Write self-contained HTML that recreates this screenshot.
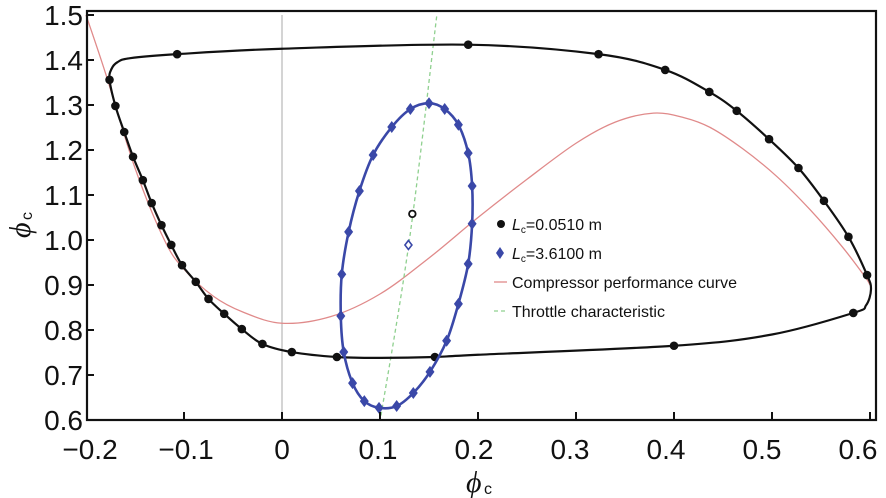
<!DOCTYPE html>
<html><head><meta charset="utf-8"><style>
body{margin:0;background:#fff;}
svg{display:block;font-family:"Liberation Sans",sans-serif;}
</style></head><body>
<svg id="chart" width="886" height="498" viewBox="0 0 886 498">
<g id="plot"></g>
<g>
<text x="466" y="492" font-family="Liberation Serif,serif" font-style="italic" font-size="30" fill="#111">ϕ</text>
<text x="484" y="494" font-family="Liberation Sans,sans-serif" font-size="16" fill="#111">c</text>
</g>
<g transform="translate(30,228) rotate(-90)">
<text x="-10" y="0" font-family="Liberation Serif,serif" font-style="italic" font-size="30" fill="#111">ϕ</text>
<text x="8" y="2" font-family="Liberation Sans,sans-serif" font-size="16" fill="#111">c</text>
</g>
<g font-family="Liberation Sans,sans-serif" font-size="16" fill="#111">
<g>
<circle cx="501" cy="224" r="4" fill="#111"/>
<text x="512" y="230"><tspan font-style="italic">L</tspan><tspan font-size="10" dy="3">c</tspan><tspan dy="-3">=0.0510 m</tspan></text></g>
<g>
<polygon points="500,247 504,253 500,259 496,253" fill="#3a48a8"/>
<text x="512" y="259"><tspan font-style="italic">L</tspan><tspan font-size="10" dy="3">c</tspan><tspan dy="-3">=3.6100 m</tspan></text></g>
<g>
<line x1="494" x2="507" y1="282" y2="282" stroke="#e08a8a" stroke-width="1.3"/>
<text x="512" y="288">Compressor performance curve</text></g>
<g>
<line x1="494" x2="507" y1="311" y2="311" stroke="#8fd08f" stroke-width="1.3" stroke-dasharray="4,3"/>
<text x="512" y="317">Throttle characteristic</text></g>
</g>
</svg>
<script>
const xTicks=[-0.2,-0.1,0,0.1,0.2,0.3,0.4,0.5,0.6];
const xTickLabels=["\u22120.2","\u22120.1","0","0.1","0.2","0.3","0.4","0.5","0.6"];
const yTicks=[0.6,0.7,0.8,0.9,1.0,1.1,1.2,1.3,1.4,1.5];
const yTickLabels=["0.6","0.7","0.8","0.9","1.0","1.1","1.2","1.3","1.4","1.5"];
const compX=[-0.2,-0.18,-0.15,-0.12,-0.1,-0.07,-0.04,0,0.05,0.1,0.15,0.2,0.25,0.3,0.34,0.379,0.41,0.437,0.470,0.505,0.539,0.572,0.595,0.6];
const compY=[1.5,1.37,1.16,1.0,0.935,0.875,0.84,0.815,0.83,0.88,0.96,1.05,1.135,1.215,1.262,1.282,1.272,1.250,1.203,1.141,1.067,0.984,0.918,0.9];
const throttleX=[0.101,0.13,0.158];
const throttleY=[0.61,1.0,1.5];
const loopAX=[-0.176,-0.174,-0.168,-0.155,-0.107,0,0.19,0.323,0.391,0.436,0.464,0.497,0.527,0.553,0.578,0.597,0.601,0.596,0.583,0.5,0.4,0.2,0.156,0.1,0.056,0.01,-0.02,-0.041,-0.059,-0.075,-0.088,-0.102,-0.113,-0.123,-0.133,-0.142,-0.152,-0.161,-0.170];
const loopAY=[1.356,1.38,1.395,1.404,1.413,1.425,1.434,1.413,1.378,1.329,1.287,1.224,1.160,1.087,1.007,0.922,0.89,0.855,0.838,0.79,0.765,0.745,0.74,0.738,0.74,0.751,0.769,0.802,0.836,0.869,0.907,0.944,0.989,1.033,1.082,1.133,1.185,1.24,1.298];
const markAX=[-0.176,-0.107,0.19,0.323,0.391,0.436,0.464,0.497,0.527,0.553,0.578,0.597,0.583,0.4,0.156,0.056,0.01,-0.02,-0.041,-0.059,-0.075,-0.088,-0.102,-0.113,-0.123,-0.133,-0.142,-0.152,-0.161,-0.170];
const markAY=[1.356,1.413,1.434,1.413,1.378,1.329,1.287,1.224,1.160,1.087,1.007,0.922,0.838,0.765,0.74,0.74,0.751,0.769,0.802,0.836,0.869,0.907,0.944,0.989,1.033,1.082,1.133,1.185,1.24,1.298];
const loopBX=[0.150,0.166,0.180,0.190,0.194,0.194,0.190,0.180,0.168,0.151,0.134,0.117,0.099,0.084,0.072,0.063,0.060,0.061,0.068,0.079,0.093,0.112,0.131];
const loopBY=[1.304,1.291,1.256,1.193,1.120,1.036,0.947,0.858,0.776,0.707,0.660,0.631,0.627,0.642,0.682,0.751,0.831,0.924,1.018,1.109,1.189,1.251,1.291];
const eqA=[0.133,1.058];
const eqB=[0.129,0.989];

const L=86,R=877,T=10,B=420;
const sx=v=>282+(v)*980;
const sy=v=>420-(v-0.6)*450;
const NS="http://www.w3.org/2000/svg";
const g=document.getElementById('plot');
function mk(tag,attrs,parent){const e=document.createElementNS(NS,tag);for(const k in attrs)e.setAttribute(k,attrs[k]);(parent||g).appendChild(e);return e;}
function smooth(xs,ys,closed){
  const p=xs.map((x,i)=>[sx(x),sy(ys[i])]);const n=p.length;
  let d="M"+p[0][0]+","+p[0][1];
  const get=i=>closed?p[(i+n)%n]:p[Math.max(0,Math.min(n-1,i))];
  const m=closed?n:n-1;
  for(let i=0;i<m;i++){const p0=get(i-1),p1=get(i),p2=get(i+1),p3=get(i+2);
    d+=" C"+(p1[0]+(p2[0]-p0[0])/6)+","+(p1[1]+(p2[1]-p0[1])/6)+" "+(p2[0]-(p3[0]-p1[0])/6)+","+(p2[1]-(p3[1]-p1[1])/6)+" "+p2[0]+","+p2[1];}
  return d+(closed?"Z":"");
}
let e=mk('line',{x1:sx(0),x2:sx(0),y1:sy(1.5),y2:B,stroke:'#aaa','stroke-width':1});


e=mk('path',{d:smooth(compX,compY,false),fill:'none',stroke:'#e08a8a','stroke-width':1.3});


e=mk('path',{d:smooth(throttleX,throttleY,false),fill:'none',stroke:'#8fd08f','stroke-width':1.3,'stroke-dasharray':'4,3'});


e=mk('path',{d:smooth(loopAX,loopAY,true),fill:'none',stroke:'#111','stroke-width':2.2});


markAX.forEach((x,i)=>{const c=mk('circle',{cx:sx(x),cy:sy(markAY[i]),r:4.3,fill:'#111'});

});
e=mk('path',{d:smooth(loopBX,loopBY,true),fill:'none',stroke:'#3a48a8','stroke-width':2.6});


loopBX.forEach((x,i)=>{const X=sx(x),Y=sy(loopBY[i]);const c=mk('polygon',{points:`${X},${Y-6} ${X+4.5},${Y} ${X},${Y+6} ${X-4.5},${Y}`,fill:'#3a48a8'});

});
e=mk('circle',{cx:sx(eqA[0]),cy:sy(eqA[1]),r:3.3,fill:'#fff',stroke:'#111','stroke-width':1.8});


{const X=sx(eqB[0]),Y=sy(eqB[1]);e=mk('polygon',{points:`${X},${Y-4.5} ${X+3.5},${Y} ${X},${Y+4.5} ${X-3.5},${Y}`,fill:'#fff',stroke:'#3a48a8','stroke-width':1.6});}


e=mk('rect',{x:L+1,y:T+1,width:R-L-2,height:B-T-1,fill:'none',stroke:'#111','stroke-width':2.2});


xTicks.forEach((v,i)=>{const X=sx(v);
  if(i>0){const t=mk('line',{x1:X,x2:X,y1:B,y2:B-8,stroke:'#111','stroke-width':2});
  
  }
  const tx=mk('text',{x:X-v*20,y:459,'text-anchor':'middle','font-size':28,fill:'#111'});tx.textContent=xTickLabels[i];
  
  });
yTicks.forEach((v,i)=>{const Y=sy(v);
  if(i>0){const t=mk('line',{x1:L,x2:L+8,y1:Y,y2:Y,stroke:'#111','stroke-width':2});
  
  }
  const tx=mk('text',{x:83,y:Y+10,'text-anchor':'end','font-size':28,fill:'#111'});tx.textContent=yTickLabels[i];
  
  });
</script>
</body></html>
